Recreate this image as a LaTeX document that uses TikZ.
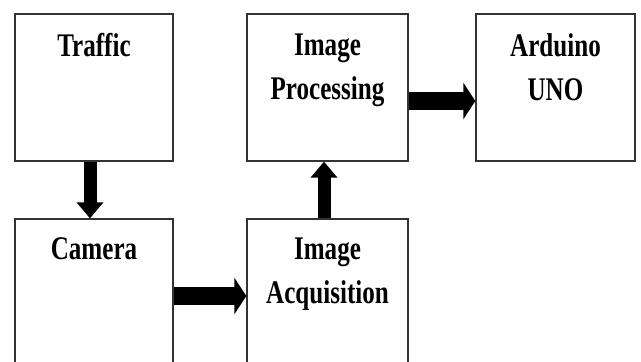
\documentclass[tikz,border=0pt]{standalone}
\usepackage{fontspec}
\setmainfont{Liberation Serif}[FakeStretch=0.76]
\usetikzlibrary{arrows.meta}

\begin{document}
\begin{tikzpicture}[x=1pt, y=-1pt,
    blk/.style={draw=black!80, line width=1.3pt, minimum height=147pt, inner sep=0pt},
    txt/.style={font=\fontsize{33}{44}\selectfont\bfseries, align=center, anchor=north, inner sep=0pt},
    varr/.style={line width=13pt, -{Triangle[width=26pt, length=16pt]}},
    harr/.style={line width=18pt, -{Triangle[width=36pt, length=12pt]}}]
    \clip (0,0) rectangle (641,362);
    % blocks
    \node[blk, minimum width=158pt] (traffic) at (94,87.5) {};
    \node[blk, minimum width=161pt] (proc) at (327.5,87.5) {};
    \node[blk, minimum width=159pt] (arduino) at (555.5,87.5) {};
    \node[blk, minimum width=158pt, minimum height=154pt] (camera) at (94,296) {};
    \node[blk, minimum width=161pt, minimum height=154pt] (acq) at (327.5,296) {};
    % block titles
    \node[txt] (traffictxt) at ([yshift=-20pt]traffic.north) {Traffic};
    \node[txt] (proctxt) at ([yshift=-20pt]proc.north) {Image\\Processing};
    \node[txt] (arduinotxt) at ([yshift=-20pt]arduino.north) {Arduino\\UNO};
    \node[txt] (cameratxt) at ([yshift=-19pt]camera.north) {Camera};
    \node[txt] (acqtxt) at ([yshift=-19pt]acq.north) {Image\\Acquisition};
    % arrows
    \draw[varr] ([xshift=-4pt]traffic.south) -- ([xshift=-4pt]camera.north);
    \draw[harr] (camera.east) -- (acq.west);
    \draw[varr] ([xshift=-3.5pt]acq.north) -- ([xshift=-3.5pt]proc.south);
    \draw[harr] ([yshift=-13.5pt]proc.east) -- ([yshift=-13.5pt]arduino.west);
\end{tikzpicture}
\end{document}
